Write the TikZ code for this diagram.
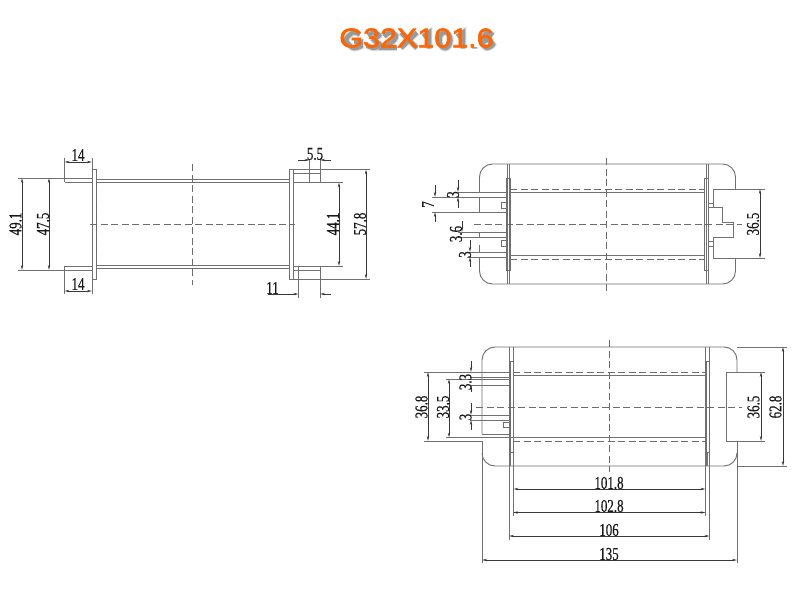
\documentclass[tikz,border=0pt]{standalone}
\usepackage{fontspec}
\setmainfont{Liberation Serif}[FakeBold=0.5]
\newfontfamily\titlefont{Liberation Sans}[FakeBold=2.2]
\usetikzlibrary{arrows.meta}
\definecolor{titleorange}{HTML}{FF6600}
\newcommand{\dimtext}[1]{\scalebox{0.72}[1]{\fontsize{18}{18}\selectfont #1}}
\newcommand{\titletext}{\titlefont\scalebox{1.13}[1]{\fontsize{27}{27}\selectfont G32X101.6}}
\newcommand{\titleshadowpath}[1]{%
  \draw[#1] plot[smooth] coordinates {(358,32) (351,30) (344,37.5) (351,45.5) (358.5,44)} -- (358.5,39) -- (352,39)
    plot[smooth] coordinates {(366,33) (372,30) (377,33) (372,37.5) (378,42) (372,45.5) (365,43)}
    plot[smooth] coordinates {(382,34) (388,30) (394,33) (392,38) (383,45)} -- (395,45)
    (399,30) -- (415,45.5) (415,30) -- (399,45.5)
    (421,34) -- (427,30) -- (427,46)
    (443,37.7) ellipse[x radius=5.5,y radius=8]
    (455,34) -- (461,30) -- (461,46)
    (472.5,44.5) -- (472.5,46)
    plot[smooth] coordinates {(491,33) (485,30) (480,37) (480,41) (485,45.5) (491,42) (485.5,37.5) (480,40)};}
\tikzset{
  x=1pt,y=-1pt,
  outline/.style={draw=black!56,line width=0.95pt},
  thick line/.style={draw=black!55,line width=1.5pt},
  dash line/.style={draw=black!58,line width=0.9pt,dash pattern=on 7pt off 3.5pt},
  ext/.style={draw=black!56,line width=0.8pt},
  dimline/.style={draw=black!78,line width=0.7pt,{Stealth[length=5pt,width=2.4pt]}-{Stealth[length=5pt,width=2.4pt]}},
  dimout/.style={draw=black!78,line width=0.7pt,-{Stealth[length=5pt,width=2.4pt]}},
  dimlabel/.style={inner sep=0pt,text=black!90},
  vlabel/.style={dimlabel,rotate=90},
}
\begin{document}
\begin{tikzpicture}
\useasboundingbox (0,0) rectangle (800,600);
\fill[white] (0,0) rectangle (800,600);

% title with its soft shadow
\begin{scope}[shift={(2,2.5)}]
\titleshadowpath{black,opacity=0.13,line width=6.5pt}
\titleshadowpath{black,opacity=0.3,line width=4.5pt}
\end{scope}
\node[inner sep=0pt,text=titleorange] (title) at (416.5,38) {\titletext};

% ===== left view =====
\draw[outline] (92.5,169.5) rectangle (96,279);
\draw[outline] (289,169.5) rectangle (293,279);
\draw[outline] (96,179) -- (289,179) (96,182) -- (289,182);
\draw[outline] (96,265.5) -- (289,265.5) (96,268.5) -- (289,268.5);
\draw[outline] (64.5,178) -- (92.5,178) (64.5,182) -- (92.5,182);
\draw[outline] (64.5,266) -- (92.5,266) (64.5,270) -- (92.5,270);
\draw[dash line] (96,182) -- (96,265);
\draw[dash line] (289,182) -- (289,265);
\draw[dash line] (90,224.5) -- (295,224.5);
\draw[dash line] (192,164) -- (192,285);
% tabs right
\draw[outline] (293,169.5) -- (370,169.5) (293,182.5) -- (343,182.5);
\draw[outline] (293,266) -- (343,266) (293,279) -- (370,279);
\draw[outline] (293,173) -- (320,173) (293,270) -- (320,270);
\draw[outline] (320,169.5) -- (320,182.5) (320,266) -- (320,279);
% left dims
\draw[ext] (18,178) -- (64.5,178) (18,270) -- (64.5,270);
\draw[ext] (64.5,158) -- (64.5,182) (92,158) -- (92,170);
\draw[ext] (64.5,266) -- (64.5,294) (92,279) -- (92,294);
\draw[dimline] (22,178) -- (22,270);
\draw[dimline] (49,178) -- (49,270);
\draw[dimline] (64.5,162) -- (92,162);
\draw[dimline] (64.5,291) -- (92,291);
\node[vlabel] (d491) at (15.5,224) {\dimtext{49.1}};
\node[vlabel] (d475) at (43,224) {\dimtext{47.5}};
\node[dimlabel] (d14a) at (78,155) {\dimtext{14}};
\node[dimlabel] (d14b) at (78,284) {\dimtext{14}};
% right dims of left view
\draw[ext] (309.5,160) -- (309.5,183) (320,158) -- (320,170);
\draw[dimout] (298,160) -- (309.5,160);
\draw[dimout] (331,160) -- (320,160);
\draw[ext] (298.5,266) -- (298.5,298) (320,279) -- (320,298);
\draw[dimout] (268,294) -- (298.5,294);
\draw[dimout] (331,294) -- (320,294);
\draw[dimline] (339,182.5) -- (339,266);
\draw[dimline] (366,169.5) -- (366,279);
\node[dimlabel] (d55) at (315,154) {\dimtext{5.5}};
\node[dimlabel] (d11) at (272.5,288) {\dimtext{11}};
\node[vlabel] (d441) at (333,224) {\dimtext{44.1}};
\node[vlabel] (d578) at (360,224) {\dimtext{57.8}};

% ===== top right view =====
\draw[outline] (479.5,192) -- (479.5,177) arc[start angle=180,end angle=270,radius=13] -- (722.5,164) arc[start angle=270,end angle=360,radius=13] -- (735.5,189);
\draw[outline] (479.5,257) -- (479.5,271) arc[start angle=180,end angle=90,radius=13] -- (722.5,284) arc[start angle=90,end angle=0,radius=13] -- (735.5,258);
\draw[outline] (479.5,197) -- (479.5,212) (479.5,232) -- (479.5,237) (479.5,252) -- (479.5,245);
\draw[outline] (507,164) -- (507,284) (509.5,164) -- (509.5,284);
\draw[outline] (706,164) -- (706,284) (708.5,164) -- (708.5,284);
\draw[outline] (506,178) rectangle (510,270);
\draw[outline] (704,178) rectangle (708.5,270);
\draw[outline] (510,192.5) -- (704,192.5) (510,255.5) -- (704,255.5);
\draw[dash line] (510,189) -- (704,189);
\draw[dash line] (510,259) -- (704,259);
\draw[dash line] (474,224.5) -- (742,224.5);
\draw[dash line] (606,158) -- (606,292);
% pins
\draw[outline] (458,192) -- (506,192) (432,197) -- (506,197);
\draw[outline] (432,212) -- (506,212);
\draw[outline] (458,232) -- (506,232) (458,237) -- (506,237);
\draw[outline] (467,252) -- (506,252) (467,257) -- (506,257);
\draw[outline] (501,202) rectangle (506,208);
\draw[outline] (501,240) rectangle (506,246);
% connector shape right
\draw[outline] (765,189) -- (713.5,189) -- (713.5,207) -- (722,207) -- (722,222) -- (733.5,222) -- (733.5,237) -- (713.5,237) -- (713.5,258) -- (765,258);
\draw[outline] (708,203) -- (713.5,203) (708,207) -- (713.5,207);
\draw[outline] (708,241) -- (713.5,241) (708,246) -- (713.5,246);
% dims
\draw[dimout] (435,185) -- (435,197);
\draw[dimout] (435,222) -- (435,212);
\draw[dimout] (458,180) -- (458,192);
\draw[dimout] (458,208) -- (458,197);
\draw[dimout] (462,221) -- (462,232);
\draw[dimout] (470,240) -- (470,252);
\draw[dimout] (470,267) -- (470,257);
\draw[dimline] (760,189) -- (760,258);
\node[vlabel] (d7) at (428,204.5) {\dimtext{7}};
\node[vlabel] (d3a) at (453,194.5) {\dimtext{3}};
\node[vlabel] (d36) at (456,234) {\dimtext{3.6}};
\node[vlabel] (d3b) at (465,254.5) {\dimtext{3}};
\node[vlabel] (d365a) at (753,224) {\dimtext{36.5}};

% ===== lower right view =====
\draw[outline] (482,434) -- (482,360) arc[start angle=180,end angle=270,radius=13] -- (724,347) arc[start angle=270,end angle=360,radius=13] -- (737,372);
\draw[outline] (482,563) -- (482,441);
\draw[outline] (482,453) arc[start angle=180,end angle=90,radius=13] -- (724,466) arc[start angle=90,end angle=0,radius=13];
\draw[outline] (737,441) -- (737,563);
\draw[outline] (737,347) -- (787,347) (737,466) -- (787,466);
% flanges with extension downward
\draw[outline] (509,347) -- (509,540) (513,347) -- (513,516);
\draw[outline] (513.5,452) -- (513.5,496);
\draw[outline] (705.5,347) -- (705.5,516) (709.5,347) -- (709.5,540);
\draw[outline] (510,361) rectangle (513,452);
\draw[outline] (706,361) rectangle (709.5,452);
\draw[thick line] (510,452) -- (510,466) (707,452) -- (707,466);
\draw[outline] (513,375) -- (706,375);
\draw[thick line] (482,437.5) -- (706,437.5);
\draw[dash line] (513,372) -- (706,372);
\draw[dash line] (513,441) -- (706,441);
\draw[dash line] (476,407) -- (742,407);
\draw[dash line] (609,340) -- (609,472);
% pins
\draw[outline] (424,372) -- (510,372) (470,377) -- (510,377) (446,379) -- (510,379);
\draw[outline] (470,385) -- (510,385);
\draw[outline] (470,415) -- (510,415) (470,420) -- (510,420);
\draw[outline] (482,434) -- (509,434);
\draw[outline] (424,441) -- (482,441);
\draw[outline] (446,437.5) -- (482,437.5);
\draw[outline] (503,422) rectangle (509,427.5);
% connector
\draw[outline] (765,372) -- (726,372) -- (726,441) -- (765,441);
% dims
\draw[dimline] (428,372) -- (428,441);
\draw[dimline] (449,379) -- (449,437.5);
\draw[dimout] (471,361) -- (471,372);
\draw[dimout] (471,392) -- (471,385);
\draw[dimout] (471,403) -- (471,415);
\draw[dimout] (471,430) -- (471,420);
\draw[dimline] (761,372) -- (761,441);
\draw[dimline] (783,347) -- (783,466);
\node[vlabel] (d368) at (421.5,407) {\dimtext{36.8}};
\node[vlabel] (d335) at (443,407) {\dimtext{33.5}};
\node[vlabel] (d33) at (465.5,382) {\dimtext{3.3}};
\node[vlabel] (d3c) at (465.5,417) {\dimtext{3}};
\node[vlabel] (d365b) at (753.5,407) {\dimtext{36.5}};
\node[vlabel] (d628) at (775.5,407) {\dimtext{62.8}};
% bottom dims
\draw[dimline] (513.5,489) -- (705.5,489);
\draw[dimline] (513,512.5) -- (705.5,512.5);
\draw[dimline] (509,536) -- (709.5,536);
\draw[dimline] (482,560) -- (737,560);
\node[dimlabel] (d1018) at (609,483) {\dimtext{101.8}};
\node[dimlabel] (d1028) at (609,506) {\dimtext{102.8}};
\node[dimlabel] (d106) at (609,530) {\dimtext{106}};
\node[dimlabel] (d135) at (609,554) {\dimtext{135}};
\end{tikzpicture}
\end{document}
